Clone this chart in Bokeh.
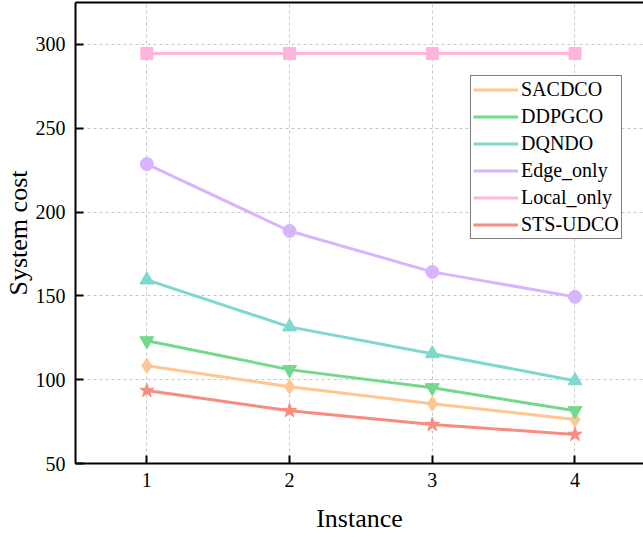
from bokeh.plotting import figure
from bokeh.models import Legend, LegendItem, LinearAxis, FixedTicker, Range1d
from bokeh.embed import file_html
from bokeh.resources import INLINE

instances = [1, 2, 3, 4]
sacdco = [108.3, 95.8, 85.7, 76.2]
ddpgco = [123.2, 106.0, 95.2, 81.5]
dqndo = [159.5, 131.5, 115.5, 99.4]
edge_only = [228.6, 188.7, 164.3, 149.4]
local_only = [294.6, 294.6, 294.6, 294.6]
sts_udco = [93.5, 81.5, 73.2, 67.3]

FONT = "Liberation Serif"

p = figure(width=643, height=537, output_backend="svg", toolbar_location=None,
           x_range=Range1d(0.5, 4.48), y_range=Range1d(50, 325),
           min_border_left=75, min_border_right=0, min_border_top=2, min_border_bottom=74)
p.outline_line_color = None
p.background_fill_color = "white"

series = [
    ("SACDCO", sacdco, "#FFC690", "diamond", 15),
    ("DDPGCO", ddpgco, "#72D98C", "inverted_triangle", 14),
    ("DQNDO", dqndo, "#7ED8CE", "triangle", 14),
    ("Edge_only", edge_only, "#D8B4FE", "circle", 13),
    ("Local_only", local_only, "#FFB4DC", "square", 12),
    ("STS-UDCO", sts_udco, "#F88C80", "star", 15),
]

items = []
for name, vals, col, mk, sz in series:
    r = p.line(instances, vals, line_color=col, line_width=3)
    p.scatter(instances, vals, marker=mk, size=sz, fill_color=col, line_color=col)
    items.append(LegendItem(label=name, renderers=[r]))

# axes
for ax in (p.xaxis[0], p.yaxis[0]):
    ax.axis_line_width = 2
    ax.axis_line_color = "black"
    ax.major_tick_in = 8
    ax.major_tick_out = 0
    ax.major_tick_line_width = 2
    ax.minor_tick_line_color = None
    ax.major_label_text_font = FONT
    ax.major_label_text_font_size = "20px"
    ax.major_label_text_color = "black"
    ax.axis_label_text_font = FONT
    ax.axis_label_text_font_style = "normal"
    ax.axis_label_text_color = "black"

p.xaxis.ticker = FixedTicker(ticks=instances)
p.yaxis.ticker = FixedTicker(ticks=[50, 100, 150, 200, 250, 300])
p.xaxis.axis_label = "Instance"
p.yaxis.axis_label = "System cost"
p.xaxis.axis_label_text_font_size = "26px"
p.yaxis.axis_label_text_font_size = "26px"
p.xaxis.major_label_standoff = 9
p.xaxis.axis_label_standoff = 14
p.yaxis.major_label_standoff = 10
p.yaxis.axis_label_standoff = 0

top = LinearAxis(ticker=FixedTicker(ticks=[]), axis_line_width=2, axis_line_color="black",
                 major_label_text_font_size="0px", major_tick_in=0, major_tick_out=0,
                 minor_tick_line_color=None, major_label_standoff=0)
p.add_layout(top, "above")

for g in (p.xgrid[0], p.ygrid[0]):
    g.grid_line_color = "#c8c8c8"
    g.grid_line_dash = "3 3"
    g.grid_line_width = 1

legend = Legend(items=items, location=(395, 224), margin=0, padding=2, spacing=4,
                label_height=21, glyph_height=21, glyph_width=45, label_standoff=3,
                label_text_font=FONT, label_text_font_size="20px", label_text_color="black",
                border_line_color="black", border_line_width=1.5,
                background_fill_alpha=1.0)
p.add_layout(legend, "center")

open("out.html", "w").write(file_html(p, INLINE))
